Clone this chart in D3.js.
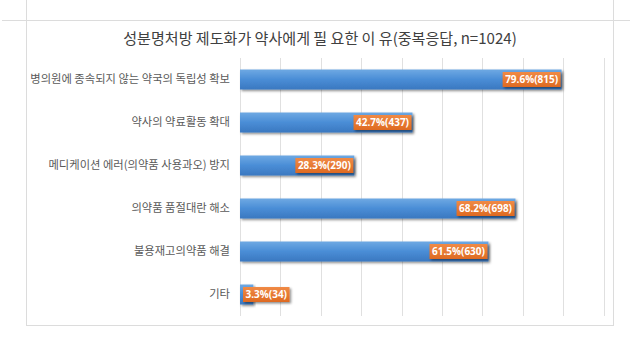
<!DOCTYPE html>
<html>
<head>
<meta charset="utf-8">
<script src="https://cdn.jsdelivr.net/npm/d3@7/dist/d3.min.js"></script>
<style>
  html, body { margin: 0; padding: 0; background: #fff; }
  svg { display: block; }
</style>
</head>
<body>
<script>
const title = "성분명처방 제도화가 약사에게 필 요한 이 유(중복응답, n=1024)";
const categories = [
  "병의원에 종속되지 않는 약국의 독립성 확보",
  "약사의 약료활동 확대",
  "메디케이션 에러(의약품 사용과오) 방지",
  "의약품 품절대란 해소",
  "불용재고의약품 해결",
  "기타"
];
const percents = [79.6, 42.7, 28.3, 68.2, 61.5, 3.3];
const counts = [815, 437, 290, 698, 630, 34];
const gridTicks = [0, 10, 20, 30, 40, 50, 60, 70, 80, 90];

const data = categories.map((c, i) => ({ cat: c, pct: percents[i], n: counts[i] }));

const W = 630, H = 346;
const svg = d3.select("body").append("svg").attr("width", W).attr("height", H);
const defs = svg.append("defs");

const bg = defs.append("linearGradient").attr("id", "barGrad").attr("x1", 0).attr("y1", 0).attr("x2", 0).attr("y2", 1);
bg.append("stop").attr("offset", "0%").attr("stop-color", "#6ea9e3");
bg.append("stop").attr("offset", "50%").attr("stop-color", "#4a8dd6");
bg.append("stop").attr("offset", "100%").attr("stop-color", "#3a78c0");

const og = defs.append("linearGradient").attr("id", "lblGrad").attr("x1", 0).attr("y1", 0).attr("x2", 0).attr("y2", 1);
og.append("stop").attr("offset", "0%").attr("stop-color", "#f08a45");
og.append("stop").attr("offset", "100%").attr("stop-color", "#de6a22");

const sh = defs.append("filter").attr("id", "shadow").attr("x", "-10%").attr("y", "-30%").attr("width", "130%").attr("height", "180%");
sh.append("feDropShadow").attr("dx", 1.5).attr("dy", 1.5).attr("stdDeviation", 1).attr("flood-color", "#000").attr("flood-opacity", 0.45);

// frame lines (spreadsheet-like)
const frameColor = "#dcdcdc";
svg.append("line").attr("x1", 2).attr("x2", W).attr("y1", 20.5).attr("y2", 20.5).attr("stroke", frameColor);
svg.append("line").attr("x1", 26.5).attr("x2", 26.5).attr("y1", 0).attr("y2", 326).attr("stroke", frameColor);
svg.append("line").attr("x1", 613.5).attr("x2", 613.5).attr("y1", 0).attr("y2", 326).attr("stroke", frameColor);
svg.append("line").attr("x1", 26.5).attr("x2", 613.5).attr("y1", 325.5).attr("y2", 325.5).attr("stroke", frameColor);

// title
const t = svg.append("text")
  .attr("x", 320).attr("y", 44)
  .attr("text-anchor", "middle")
  .attr("font-family", "'Noto Sans CJK KR', sans-serif")
  .attr("font-size", 16)
  .attr("fill", "#404040")
  .text(title);
const tw = t.node().getComputedTextLength();
if (tw > 0) t.attr("font-size", 16 * 394 / tw);

const x = d3.scaleLinear().domain([0, 90]).range([240, 603.6]);
const y = d3.scaleBand().domain(categories).range([58, 316]).paddingInner(0.535).paddingOuter(0.2675);

// gridlines
svg.append("g").selectAll("line").data(gridTicks).join("line")
  .attr("x1", d => Math.round(x(d)) + 0.5).attr("x2", d => Math.round(x(d)) + 0.5)
  .attr("y1", 58).attr("y2", 316)
  .attr("stroke", "#e0e0e0").attr("stroke-width", 1);

// category labels via axis
const yAxis = svg.append("g").attr("transform", "translate(240,0)")
  .call(d3.axisLeft(y).tickSize(0).tickPadding(10));
yAxis.select(".domain").remove();
yAxis.selectAll("text")
  .attr("font-family", "'Noto Sans CJK KR', sans-serif")
  .attr("font-size", 10.5)
  .attr("fill", "#595959");
let maxW = 0;
yAxis.selectAll("text").each(function () { maxW = Math.max(maxW, this.getComputedTextLength()); });
if (maxW > 0) yAxis.selectAll("text").attr("font-size", 10.5 * 200 / maxW);

// bars
svg.append("g").selectAll("rect").data(data).join("rect")
  .attr("x", x(0))
  .attr("y", d => y(d.cat))
  .attr("width", d => x(d.pct) - x(0))
  .attr("height", y.bandwidth())
  .attr("fill", "url(#barGrad)")
  .attr("filter", "url(#shadow)");

// data labels
const lg = svg.append("g").selectAll("g").data(data).join("g");
lg.each(function (d) {
  const g = d3.select(this);
  const txt = g.append("text")
    .attr("font-family", "'Open Sans', sans-serif")
    .attr("font-weight", "bold")
    .attr("font-size", 10)
    .attr("fill", "#fff")
    .attr("text-anchor", "middle")
    .text(d.pct.toFixed(1) + "%(" + d.n + ")");
  const w = txt.node().getComputedTextLength();
  const bw = w + 5;
  const bh = 15;
  const barEnd = x(d.pct);
  let bx = barEnd - bw - 1;
  if (bx < x(0) + 3) bx = x(0) + 3;
  const cy = y(d.cat) + y.bandwidth() / 2;
  g.insert("rect", "text")
    .attr("x", bx).attr("y", cy - bh / 2)
    .attr("width", bw).attr("height", bh)
    .attr("fill", "url(#lblGrad)")
    .attr("filter", "url(#shadow)");
  txt.attr("x", bx + bw / 2).attr("y", cy + 3.6);
});
</script>
</body>
</html>
